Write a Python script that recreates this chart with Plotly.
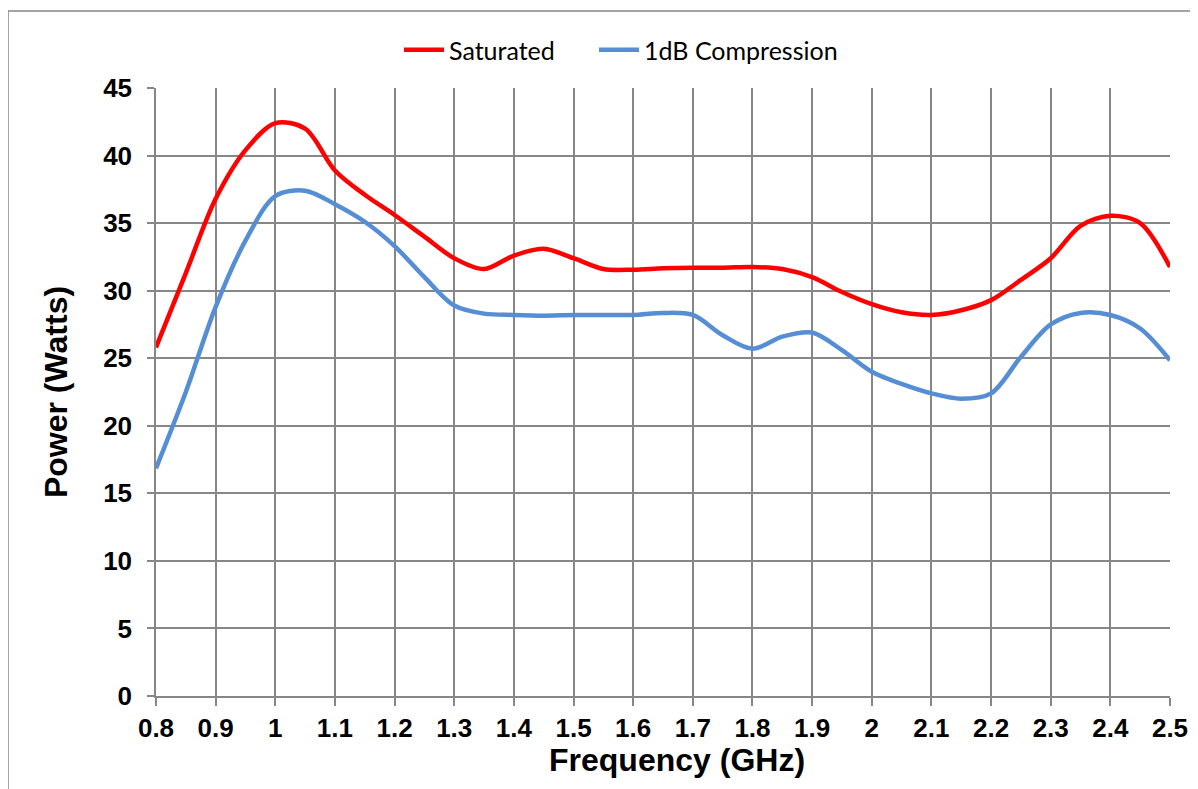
import plotly.graph_objects as go

freq = [0.80, 0.85, 0.90, 0.95, 1.00, 1.05, 1.10, 1.15, 1.20, 1.25, 1.30, 1.35,
        1.40, 1.45, 1.50, 1.55, 1.60, 1.65, 1.70, 1.75, 1.80, 1.85, 1.90, 1.95,
        2.00, 2.05, 2.10, 2.15, 2.20, 2.25, 2.30, 2.35, 2.40, 2.45, 2.50]

saturated = [25.8, 31.3, 36.8, 40.4, 42.4, 42.0, 38.9, 37.1, 35.6, 34.0, 32.4, 31.6,
             32.6, 33.1, 32.4, 31.6, 31.55, 31.65, 31.7, 31.7, 31.75, 31.6, 31.0, 29.9,
             29.0, 28.4, 28.2, 28.55, 29.3, 30.8, 32.4, 34.8, 35.55, 35.0, 31.75]

compression = [16.85, 22.5, 28.8, 33.7, 37.0, 37.4, 36.4, 35.1, 33.3, 31.0, 28.9, 28.3,
               28.2, 28.15, 28.2, 28.2, 28.2, 28.35, 28.2, 26.7, 25.7, 26.6, 26.9, 25.6,
               24.0, 23.1, 22.4, 22.0, 22.4, 25.1, 27.5, 28.35, 28.2, 27.2, 24.85]

x_ticks = [0.8, 0.9, 1.0, 1.1, 1.2, 1.3, 1.4, 1.5, 1.6, 1.7, 1.8, 1.9, 2.0, 2.1, 2.2, 2.3, 2.4, 2.5]
x_tick_text = ["0.8", "0.9", "1", "1.1", "1.2", "1.3", "1.4", "1.5", "1.6", "1.7", "1.8",
               "1.9", "2", "2.1", "2.2", "2.3", "2.4", "2.5"]
y_ticks = [0, 5, 10, 15, 20, 25, 30, 35, 40, 45]

GRID = "#878787"
OFF = 8  # page body margin
W, H = 1190, 781
L, R, T = 148, 28, 80
B = H - (696.5 - OFF)
pw = W - L - R
ph = H - T - B

fig = go.Figure()
fig.add_trace(go.Scatter(x=freq, y=saturated, name="Saturated", mode="lines", legendwidth=140,
                         line=dict(color="#FF0000", width=4.5, shape="spline", smoothing=0.9)))
fig.add_trace(go.Scatter(x=freq, y=compression, name="1dB Compression", mode="lines",
                         line=dict(color="#558ED5", width=4.5, shape="spline", smoothing=0.9)))

tickfont = dict(family="Liberation Sans, Arial, sans-serif", size=26, color="black", weight="bold")
titlefont = dict(family="Liberation Sans, Arial, sans-serif", size=32, color="black", weight="bold")

fig.update_xaxes(range=[0.8, 2.5], tickvals=x_ticks, ticktext=x_tick_text,
                 showgrid=True, gridcolor=GRID, gridwidth=1.5,
                 showline=True, linecolor=GRID, linewidth=1.5,
                 ticks="outside", ticklen=8, tickcolor=GRID, tickwidth=1.5,
                 tickfont=tickfont, ticklabelstandoff=0,
                 zeroline=False)
fig.update_yaxes(range=[0, 45], tickvals=y_ticks,
                 showgrid=True, gridcolor=GRID, gridwidth=1.5,
                 showline=True, linecolor=GRID, linewidth=1.5,
                 ticks="outside", ticklen=7, tickcolor=GRID, tickwidth=1.5,
                 tickfont=tickfont, ticklabelstandoff=10,
                 title=dict(text="Power (Watts)", font=titlefont, standoff=26),
                 zeroline=False)

# x-axis title (placed slightly right of centre, as in the original)
fig.add_annotation(text="Frequency (GHz)", xref="paper", yref="paper",
                   x=(677 - 156) / 1014, y=0, xanchor="center", yanchor="top",
                   yshift=-44, showarrow=False, font=titlefont)

# outer chart border
fig.add_shape(type="rect", xref="paper", yref="paper",
              x0=(0 - L) / pw, x1=(W + 20 - L) / pw,
              y0=(T + ph - (H + 20)) / ph, y1=(T + ph - 3) / ph,
              line=dict(color="#868686", width=1.5), layer="below")

fig.update_layout(
    width=W, height=H,
    margin=dict(l=L, r=R, t=T, b=B, autoexpand=False),
    paper_bgcolor="white", plot_bgcolor="white",
    showlegend=True,
    legend=dict(orientation="h", x=(399 - 156) / 1014, xanchor="left",
                y=1 + (T - (50 - OFF)) / ph, yanchor="middle",
                font=dict(family="Lato, Carlito, Calibri, sans-serif", size=25, color="black"),
                itemwidth=40, traceorder="normal"),
)

fig.write_html("out.html")
